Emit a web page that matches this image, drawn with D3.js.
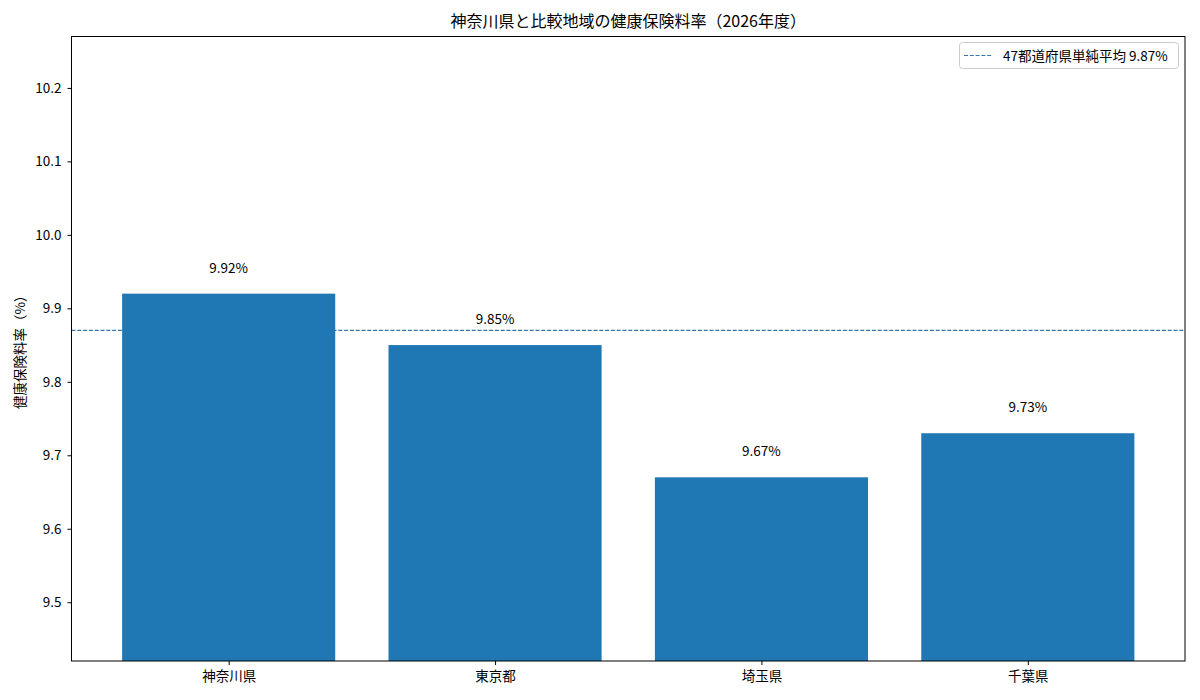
<!DOCTYPE html>
<html><head><meta charset="utf-8">
<script src="https://cdn.jsdelivr.net/npm/d3@7"></script>
<style>body{margin:0;background:#fff}svg{display:block;font-family:"Noto Sans CJK JP","Noto Sans",sans-serif}</style>
</head><body><svg id="c" width="1200" height="700"></svg>
<script>
const categories = ["神奈川県","東京都","埼玉県","千葉県"];
const rates = [9.92, 9.85, 9.67, 9.73];
const averageRate = 9.87;
const yTicks = [9.5, 9.6, 9.7, 9.8, 9.9, 10.0, 10.1, 10.2];
const titleText = "神奈川県と比較地域の健康保険料率（2026年度）";
const yLabel = "健康保険料率（%）";
const legendLabel = "47都道府県単純平均 9.87%";

const svg = d3.select("#c");
const L = 71.5, R = 1185, T = 36.5, B = 661;
const x = d3.scaleLinear().domain([-0.59, 3.59]).range([L, R]);
const y = d3.scaleLinear().domain([d3.min(rates) - 0.25, d3.max(rates) + 0.35]).range([B, T]);
const color = "#1f77b4";

// average line (behind bars)
svg.append("line").attr("x1", L).attr("x2", R).attr("y1", y(averageRate)).attr("y2", y(averageRate))
  .attr("stroke", "#3a76ae").attr("stroke-width", 1.1).attr("stroke-dasharray", "4,1.8");

svg.selectAll("rect.bar").data(rates).enter().append("rect").attr("class","bar")
  .attr("x", (d,i) => x(i - 0.4)).attr("width", (d,i) => x(i + 0.4) - x(i - 0.4))
  .attr("y", d => y(d)).attr("height", d => B - y(d)).attr("fill", color);

svg.selectAll("text.val").data(rates).enter().append("text").attr("class","val")
  .attr("x", (d,i) => x(i)).attr("y", d => y(d) - 21).attr("text-anchor","middle")
  .attr("font-size", 13.5).attr("fill", "#000").text(d => d.toFixed(2) + "%");

// axes
const yAxis = d3.axisLeft(y).tickValues(yTicks).tickSize(4).tickPadding(6).tickFormat(d => d.toFixed(1));
const gy = svg.append("g").attr("transform", `translate(${L},0)`).call(yAxis);
const xAxis = d3.axisBottom(x).tickValues(d3.range(categories.length)).tickSize(4).tickPadding(6).tickFormat(i => categories[i]);
const gx = svg.append("g").attr("transform", `translate(0,${B})`).call(xAxis);
[gy, gx].forEach(g => {
  g.select(".domain").remove();
  g.selectAll("text").attr("font-size", 13.5).attr("fill", "#000").attr("font-family", '"Noto Sans CJK JP","Noto Sans",sans-serif');
  g.selectAll("line").attr("stroke", "#000").attr("stroke-width", 1);
});

svg.append("rect").attr("x", L).attr("y", T).attr("width", R - L).attr("height", B - T)
  .attr("fill", "none").attr("stroke", "#000").attr("stroke-width", 1);

svg.append("text").attr("x", (L + R) / 2).attr("y", 27).attr("text-anchor", "middle")
  .attr("font-size", 16).attr("fill", "#000").text(titleText);

svg.append("text").attr("transform", `translate(25,${(T + B) / 2}) rotate(-90)`).attr("text-anchor", "middle")
  .attr("font-size", 13.5).attr("fill", "#000").text(yLabel);

// legend
const lg = svg.append("g");
lg.append("rect").attr("x", 959.5).attr("y", 42.5).attr("width", 219).attr("height", 26).attr("rx", 3)
  .attr("fill", "#fff").attr("fill-opacity", 0.8).attr("stroke", "#ccc").attr("stroke-width", 1);
lg.append("line").attr("x1", 964).attr("x2", 992).attr("y1", 55.5).attr("y2", 55.5)
  .attr("stroke", "#3a76ae").attr("stroke-width", 1.1).attr("stroke-dasharray", "4,1.8");
lg.append("text").attr("x", 1003).attr("y", 60.5).attr("font-size", 13.5).attr("fill", "#000").text(legendLabel);
</script></body></html>
